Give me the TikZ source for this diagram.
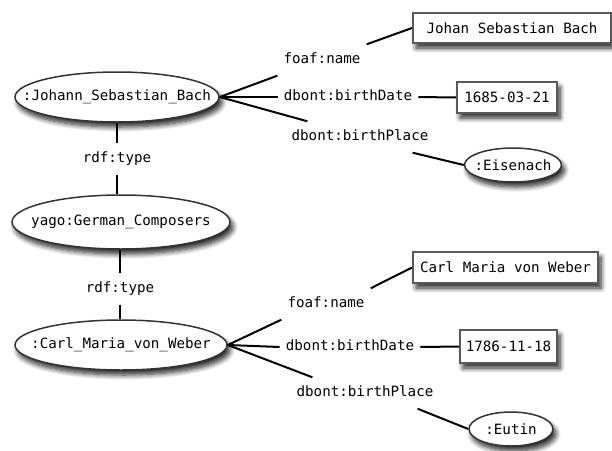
\documentclass[tikz,border=0pt]{standalone}
\usepackage{fontspec}
\setmonofont{DejaVu Sans Mono}
\usetikzlibrary{shapes.geometric,shadows.blur}
\tikzset{
  base/.style={font=\ttfamily\fontsize{14.2}{17}\selectfont},
  shade/.style={blur shadow={shadow xshift=3pt, shadow yshift=-5pt, shadow blur steps=8, shadow blur radius=5pt, shadow opacity=85}},
  res/.style={base, ellipse, draw=black!80, line width=1.5pt, fill=white, inner sep=-200pt, shade},
  lit/.style={base, rectangle, draw=black!65, line width=2pt, fill=white, inner sep=0pt, shade},
  prop/.style={base, inner xsep=6pt, inner ysep=9pt, text height=10pt, text depth=3pt},
  edge/.style={line width=2pt, black},
}
\begin{document}
\begin{tikzpicture}[x=1pt, y=-1pt]
\useasboundingbox (0,0) rectangle (612,450);
% resources
\node[res, minimum width=204pt, minimum height=50pt] (jsb) at (117,97) {:Johann\_Sebastian\_Bach};
\node[res, minimum width=218pt, minimum height=54pt] (gc) at (121,222) {yago:German\_Composers};
\node[res, minimum width=212pt, minimum height=50pt] (cmw) at (121,345) {:Carl\_Maria\_von\_Weber};
% property labels
\node[prop] (rt1) at (117,159) {rdf:type};
\node[prop] (rt2) at (120,289) {rdf:type};
\node[prop] (fn1) at (322,60) {foaf:name};
\node[prop] (bd1) at (348,97) {dbont:birthDate};
\node[prop] (bp1) at (360,137) {dbont:birthPlace};
\node[prop] (fn2) at (326,304) {foaf:name};
\node[prop] (bd2) at (350,347) {dbont:birthDate};
\node[prop] (bp2) at (365,393) {dbont:birthPlace};
% objects
\node[lit, minimum width=198pt, minimum height=30pt] (n1) at (512,28) {Johan Sebastian Bach};
\node[lit, minimum width=100pt, minimum height=31pt] (d1) at (507,97.5) {1685-03-21};
\node[res, minimum width=97pt, minimum height=34pt] (p1) at (513,165) {:Eisenach};
\node[lit, minimum width=185pt, minimum height=31pt] (n2) at (505.5,267.5) {Carl Maria von Weber};
\node[lit, minimum width=97pt, minimum height=33pt] (d2) at (508.5,346.5) {1786-11-18};
\node[res, minimum width=84pt, minimum height=34pt] (p2) at (511,429) {:Eutin};
% connectors
\draw[edge] (jsb.south) -- (rt1);
\draw[edge] (rt1) -- (rt1 |- gc.north);
\draw[edge] (rt2 |- gc.south) -- (rt2);
\draw[edge] (rt2) -- (rt2 |- cmw.north);
\draw[edge] (jsb.east) -- (fn1.south west);
\draw[edge] (fn1.north east) -- (n1.west);
\draw[edge] (jsb.east) -- (bd1.west);
\draw[edge] (bd1.east) -- (d1.west);
\draw[edge] (jsb.east) -- ([xshift=22pt]bp1.north west);
\draw[edge] ([xshift=-22pt]bp1.south east) -- (p1.west);
\draw[edge] (cmw.east) -- (fn2.south west);
\draw[edge] (fn2.north east) -- (n2.west);
\draw[edge] (cmw.east) -- (bd2.west);
\draw[edge] (bd2.east) -- (d2.west);
\draw[edge] (cmw.east) -- ([xshift=22pt]bp2.north west);
\draw[edge] ([xshift=-22pt]bp2.south east) -- (p2.west);
\end{tikzpicture}
\end{document}
